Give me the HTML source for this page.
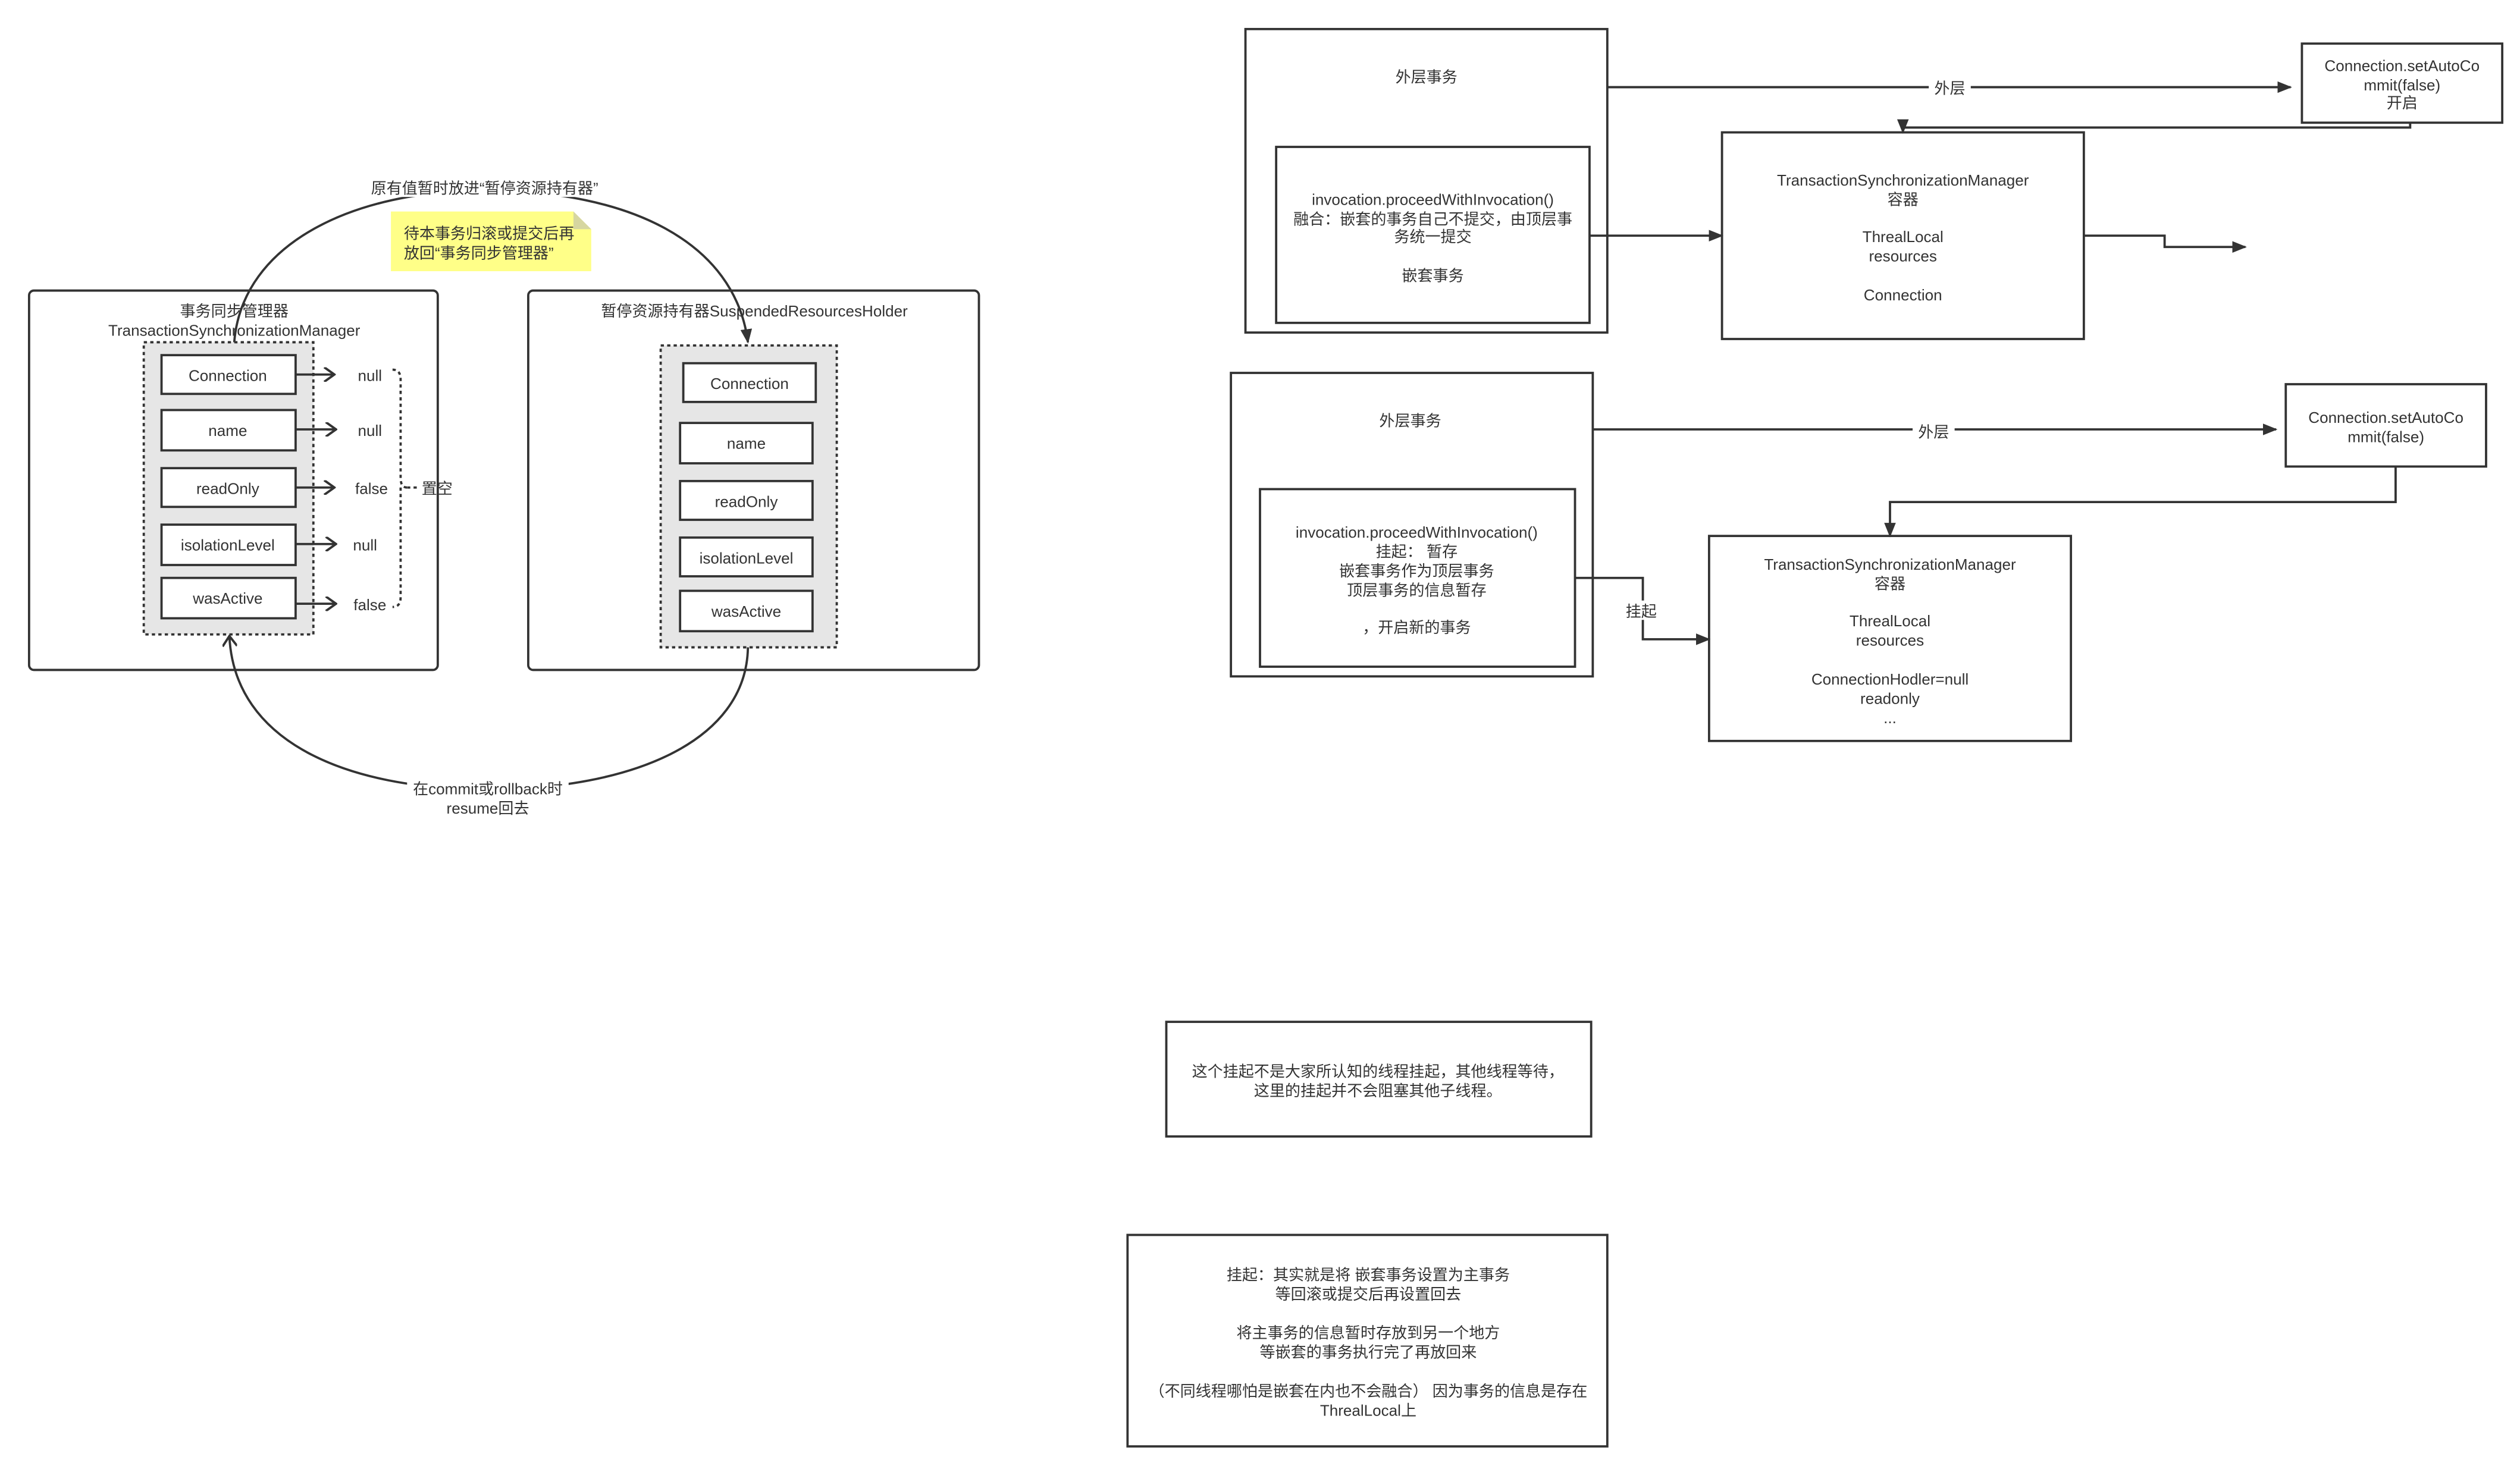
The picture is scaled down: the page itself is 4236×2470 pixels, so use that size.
<!DOCTYPE html>
<html><head><meta charset="utf-8"><style>
html,body{margin:0;padding:0;background:#fff;}
svg{display:block;}
text{font-family:"Liberation Sans","Noto Sans CJK SC",sans-serif;font-size:9.6px;fill:#333;}
</style></head><body>
<svg width="4236" height="2470" viewBox="0 0 1560 910" preserveAspectRatio="none" xmlns="http://www.w3.org/2000/svg">
<defs>
<marker id="ah" viewBox="0 0 10 10" refX="9" refY="5" markerWidth="9" markerHeight="9" orient="auto" markerUnits="userSpaceOnUse"><path d="M0,1 L10,5 L0,9 Z" fill="#333"/></marker>
<marker id="ao" viewBox="0 0 10 10" refX="9" refY="5" markerWidth="9" markerHeight="9" orient="auto" markerUnits="userSpaceOnUse"><path d="M2,0 L9,5 L2,10" fill="none" stroke="#333" stroke-width="1.6"/></marker>
</defs>
<g fill="none" stroke="#333" stroke-width="1.4">
<rect x="18" y="180" width="253" height="235" rx="3" fill="#fff"/>
<rect x="327" y="180" width="279" height="235" rx="3" fill="#fff"/>
<rect x="89" y="212" width="105" height="181" fill="#e6e6e6" stroke-dasharray="2,2"/>
<rect x="409" y="214" width="109" height="187" fill="#e6e6e6" stroke-dasharray="2,2"/>
<g fill="#fff">
<rect x="100" y="220" width="83" height="24"/><rect x="100" y="254" width="83" height="25"/>
<rect x="100" y="290" width="83" height="24"/><rect x="100" y="325" width="83" height="25"/>
<rect x="100" y="358" width="83" height="25"/>
<rect x="423" y="225" width="82" height="24"/><rect x="421" y="262" width="82" height="25"/>
<rect x="421" y="298" width="82" height="24"/><rect x="421" y="333" width="82" height="24"/>
<rect x="421" y="366" width="82" height="25"/>
</g>
<g marker-end="url(#ao)">
<line x1="183" y1="232" x2="207" y2="232"/><line x1="183" y1="266" x2="208" y2="266"/>
<line x1="183" y1="302" x2="207" y2="302"/><line x1="183" y1="337" x2="208" y2="337"/>
<line x1="183" y1="374" x2="208" y2="374"/>
</g>
<path d="M243,229 Q248,229 248,235 L248,296 Q248,302 252,302 M248,302 Q248,302 248,308 L248,370 Q248,376 243,376" stroke-dasharray="2,2"/>
<line x1="252" y1="302" x2="258" y2="302" stroke-dasharray="2,2"/>
<path d="M145,212 C150,150 220,118 300,118 C390,118 455,150 463,212" marker-end="url(#ah)"/>
<path d="M463,401 C462,460 390,489 302,489 C215,489 145,460 142,394" marker-end="url(#ao)"/>
<rect x="771" y="18" width="224" height="188"/>
<rect x="790" y="91" width="194" height="109"/>
<rect x="1425" y="27" width="124" height="49"/>
<rect x="1066" y="82" width="224" height="128"/>
<line x1="995" y1="54" x2="1418" y2="54" marker-end="url(#ah)"/>
<polyline points="1492,76 1492,79 1178,79 1178,82" marker-end="url(#ah)"/>
<line x1="984" y1="146" x2="1066" y2="146" marker-end="url(#ah)"/>
<polyline points="1290,146 1340,146 1340,153 1390,153" marker-end="url(#ah)"/>
<rect x="762" y="231" width="224" height="188"/>
<rect x="780" y="303" width="195" height="110"/>
<rect x="1415" y="238" width="124" height="51"/>
<rect x="1058" y="332" width="224" height="127"/>
<line x1="986" y1="266" x2="1409" y2="266" marker-end="url(#ah)"/>
<polyline points="1483,289 1483,311 1170,311 1170,332" marker-end="url(#ah)"/>
<polyline points="975,358 1017,358 1017,396 1058,396" marker-end="url(#ah)"/>
<rect x="722" y="633" width="263" height="71"/>
<rect x="698" y="765" width="297" height="131"/>
</g>
<path d="M242,131 L355,131 L366,142 L366,168 L242,168 Z" fill="#ffff88"/>
<path d="M355,131 L355,142 L366,142 Z" fill="#d6d6a0"/>
<g text-anchor="middle">
<text x="145" y="196">事务同步管理器</text>
<text x="145" y="208">TransactionSynchronizationManager</text>
<text x="467" y="196">暂停资源持有器SuspendedResourcesHolder</text>
<text x="141" y="236">Connection</text><text x="141" y="270">name</text>
<text x="141" y="306">readOnly</text><text x="141" y="341">isolationLevel</text>
<text x="141" y="374">wasActive</text>
<text x="464" y="241">Connection</text><text x="462" y="278">name</text>
<text x="462" y="314">readOnly</text><text x="462" y="349">isolationLevel</text>
<text x="462" y="382">wasActive</text>
<text x="229" y="236">null</text><text x="229" y="270">null</text>
<text x="230" y="306">false</text><text x="226" y="341">null</text>
<text x="229" y="378">false</text>
<rect x="222" y="110" width="156" height="12" fill="#fff"/>
<text x="300" y="120">原有值暂时放进“暂停资源持有器”</text>
<rect x="252" y="483" width="100" height="22" fill="#fff"/>
<text x="302" y="492">在commit或rollback时</text>
<text x="302" y="504">resume回去</text>
<text x="883" y="51">外层事务</text>
<text x="887" y="127">invocation.proceedWithInvocation()</text>
<text x="887" y="139">融合：嵌套的事务自己不提交，由顶层事</text>
<text x="887" y="150">务统一提交</text>
<text x="887" y="174">嵌套事务</text>
<rect x="1194" y="48" width="26" height="12" fill="#fff"/>
<text x="1207" y="58">外层</text>
<text x="1487" y="44">Connection.setAutoCo</text>
<text x="1487" y="56">mmit(false)</text>
<text x="1487" y="67">开启</text>
<text x="1178" y="115">TransactionSynchronizationManager</text>
<text x="1178" y="127">容器</text>
<text x="1178" y="150">ThrealLocal</text>
<text x="1178" y="162">resources</text>
<text x="1178" y="186">Connection</text>
<text x="873" y="264">外层事务</text>
<text x="877" y="333">invocation.proceedWithInvocation()</text>
<text x="877" y="345">挂起：  暂存</text>
<text x="877" y="357">嵌套事务作为顶层事务</text>
<text x="877" y="369">顶层事务的信息暂存</text>
<text x="877" y="392">，开启新的事务</text>
<rect x="1184" y="260" width="26" height="12" fill="#fff"/>
<text x="1197" y="271">外层</text>
<text x="1477" y="262">Connection.setAutoCo</text>
<text x="1477" y="274">mmit(false)</text>
<text x="1170" y="353">TransactionSynchronizationManager</text>
<text x="1170" y="365">容器</text>
<text x="1170" y="388">ThrealLocal</text>
<text x="1170" y="400">resources</text>
<text x="1170" y="424">ConnectionHodler=null</text>
<text x="1170" y="436">readonly</text>
<text x="1170" y="448">...</text>
<rect x="1004" y="372" width="24" height="12" fill="#fff"/>
<text x="1016" y="382">挂起</text>
<text x="853" y="667">这个挂起不是大家所认知的线程挂起，其他线程等待，</text>
<text x="853" y="679">这里的挂起并不会阻塞其他子线程。</text>
<text x="847" y="793">挂起：其实就是将 嵌套事务设置为主事务</text>
<text x="847" y="805">等回滚或提交后再设置回去</text>
<text x="847" y="829">将主事务的信息暂时存放到另一个地方</text>
<text x="847" y="841">等嵌套的事务执行完了再放回来</text>
<text x="847" y="865">（不同线程哪怕是嵌套在内也不会融合）   因为事务的信息是存在</text>
<text x="847" y="877">ThrealLocal上</text>
</g>
<text x="261" y="306">置空</text>
<text x="250" y="148">待本事务归滚或提交后再</text>
<text x="250" y="160">放回“事务同步管理器”</text>
</svg>
</body></html>
